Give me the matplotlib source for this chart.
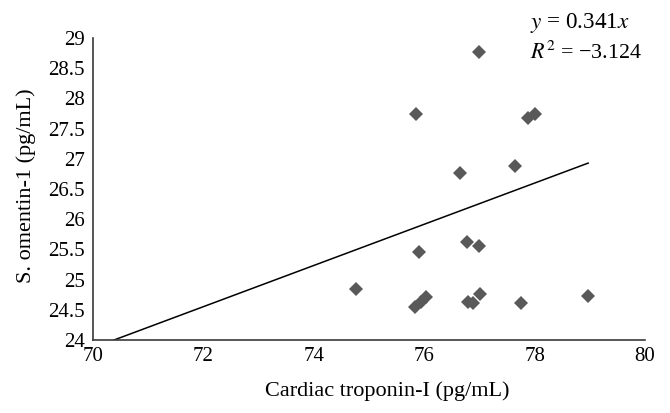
import matplotlib as mpl
mpl.use('Agg')

import numpy as np
import matplotlib.pyplot as plt

# values
troponin = [77.0, 75.86, 77.88, 78.0, 76.65, 77.64,
            76.77, 77.0, 75.91, 74.76,
            75.83, 75.94, 76.04, 76.80, 76.89, 77.01,
            77.76, 78.97]
omentin = [28.76, 27.74, 27.67, 27.74, 26.77, 26.88,
           25.62, 25.56, 25.45, 24.84,
           24.55, 24.63, 24.72, 24.63, 24.61, 24.76,
           24.62, 24.73]
slope = 0.341
r2 = -3.124
xticks = [70, 72, 74, 76, 78, 80]
yticks = [24, 24.5, 25, 25.5, 26, 26.5, 27, 27.5, 28, 28.5, 29]

plt.rcParams['font.family'] = ['Liberation Serif', 'DejaVu Serif']
plt.rcParams['mathtext.fontset'] = 'stix'

fig = plt.figure(figsize=(6.7, 4.13), dpi=100)
ax = fig.add_axes([93/670, 1-340/413, 552/670, 302/413])

ax.plot(troponin, omentin, linestyle='none', marker='D', markersize=7.3,
        markerfacecolor='#595959', markeredgewidth=0, clip_on=False, zorder=3)

# trendline through the origin, clipped at the bottom of the axes
x_start = yticks[0] / slope
x_end = max(troponin)
ax.plot([x_start, x_end], [slope*x_start, slope*x_end], color='black', linewidth=1.1)

ax.set_xlim(xticks[0], xticks[-1])
ax.set_ylim(yticks[0], yticks[-1])
ax.set_xticks(xticks)
ax.set_yticks(yticks)
ax.set_yticklabels([f"{t:g}" for t in yticks])
ax.tick_params(length=0, labelsize=15, pad=6)
ax.tick_params(axis='x', pad=5)

for side in ['top', 'right']:
    ax.spines[side].set_visible(False)
for side in ['left', 'bottom']:
    ax.spines[side].set_color('#3a3a3a')
    ax.spines[side].set_linewidth(1.2)

ax.set_xlabel("Cardiac troponin-I (pg/mL)", fontsize=16)
ax.xaxis.set_label_coords(0.533, -0.135)
ax.set_ylabel("S. omentin-1 (pg/mL)", fontsize=16)
ax.yaxis.set_label_coords(-0.104, 0.51)

eq1 = fig.text(530/670, 1-23/413, f"$y$ = {slope}$x$", fontsize=16, va='center', ha='left')
eq2 = fig.text(530/670, 1-53/413, f"$R^2$ = \u2212{abs(r2)}", fontsize=16, va='center', ha='left')

# shrink/grow the equation text so it spans the same width as in the original
fig.canvas.draw()
renderer = fig.canvas.get_renderer()
for txt, target in [(eq1, 100), (eq2, 112)]:
    w = txt.get_window_extent(renderer).width
    txt.set_fontsize(txt.get_fontsize() * target / w)

fig.savefig("out.png", dpi=100)
